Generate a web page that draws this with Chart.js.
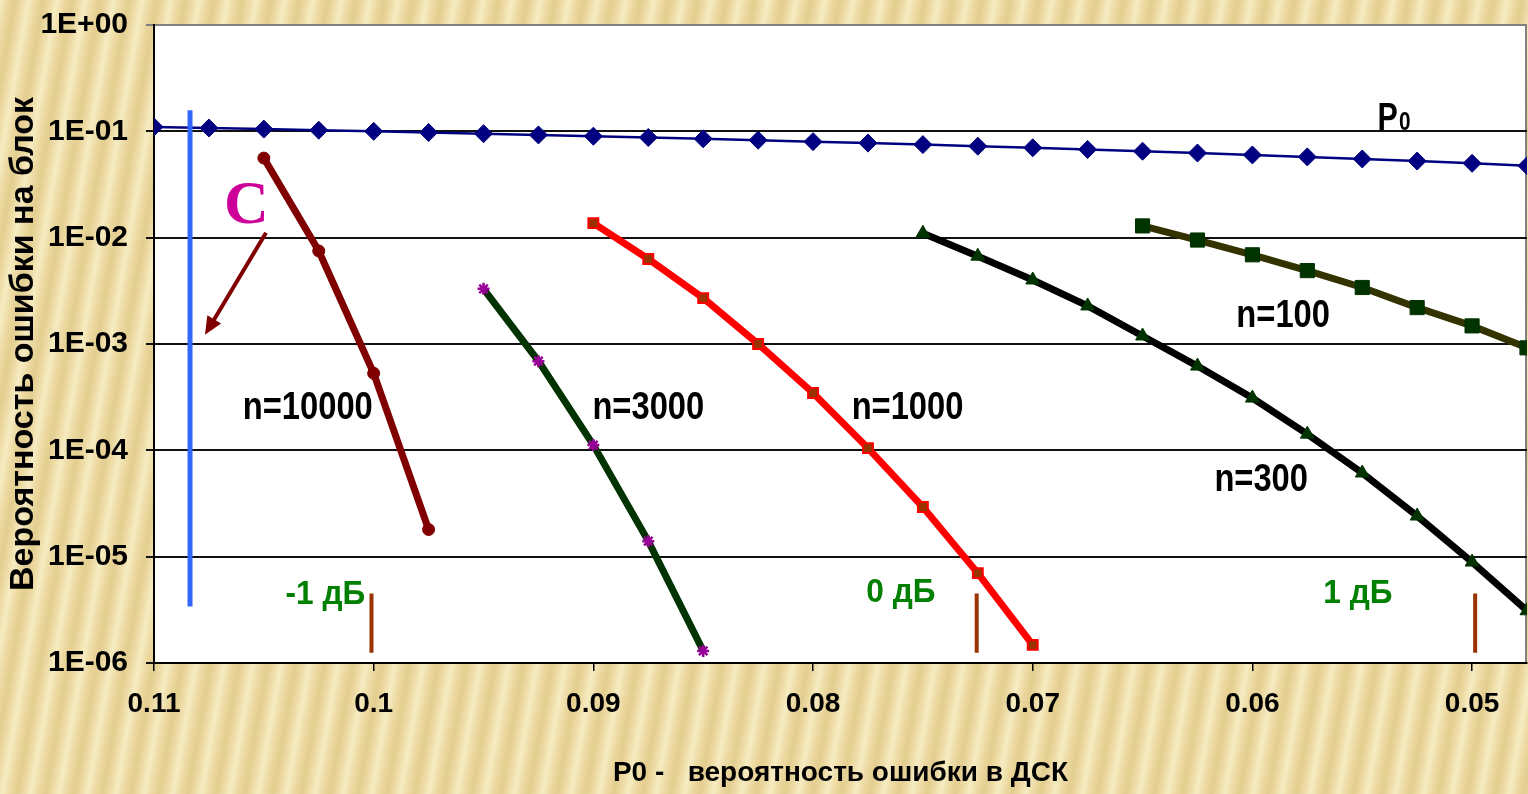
<!DOCTYPE html>
<html>
<head>
<meta charset="utf-8">
<script src="https://cdn.jsdelivr.net/npm/chart.js@4/dist/chart.umd.min.js"></script>
<style>
  html, body { margin: 0; padding: 0; overflow: hidden; }
  body {
    width: 1528px; height: 794px;
    background-color: #ecd9a0;
    background-image:
      repeating-linear-gradient(100deg, rgba(255,250,222,0.55) 0px, rgba(255,250,222,0) 8px, rgba(196,164,84,0.22) 15px, rgba(255,250,222,0.1) 22px, rgba(255,250,222,0.55) 28px);
  }
  #wrap { position: relative; width: 1528px; height: 794px; }
</style>
</head>
<body>
<div id="wrap"><canvas id="chart"></canvas></div>
<script>
// P0 - channel bit error probability (x axis)
const p0X = [0.11, 0.1075, 0.105, 0.1025, 0.1, 0.0975, 0.095, 0.0925, 0.09, 0.0875, 0.085, 0.0825, 0.08,
             0.0775, 0.075, 0.0725, 0.07, 0.0675, 0.065, 0.0625, 0.06, 0.0575, 0.055, 0.0525, 0.05, 0.0475];
const p0Y = [0.11, 0.1075, 0.105, 0.1025, 0.1, 0.0975, 0.095, 0.0925, 0.09, 0.0875, 0.085, 0.0825, 0.08,
             0.0775, 0.075, 0.0725, 0.07, 0.0675, 0.065, 0.0625, 0.06, 0.0575, 0.055, 0.0525, 0.05, 0.0475];

const n10000X = [0.105, 0.1025, 0.1, 0.0975];
const n10000Y = [0.056, 0.0075, 0.00053, 0.000018];

const n3000X = [0.095, 0.0925, 0.09, 0.0875, 0.085];
const n3000Y = [0.0033, 0.00069, 0.000112, 0.000014, 0.0000013];

const n1000X = [0.09, 0.0875, 0.085, 0.0825, 0.08, 0.0775, 0.075, 0.0725, 0.07];
const n1000Y = [0.0137, 0.0063, 0.0027, 0.001, 0.000346, 0.000105, 0.0000293, 0.000007, 0.00000148];

const n300X = [0.075, 0.0725, 0.07, 0.0675, 0.065, 0.0625, 0.06, 0.0575, 0.055, 0.0525, 0.05, 0.0475];
const n300Y = [0.011, 0.0067, 0.004, 0.00228, 0.00119, 0.00062, 0.00031, 0.000142, 0.0000612, 0.0000241, 0.0000089, 0.0000031];

const n100X = [0.065, 0.0625, 0.06, 0.0575, 0.055, 0.0525, 0.05, 0.0475];
const n100Y = [0.0129, 0.0095, 0.0069, 0.0049, 0.0034, 0.0022, 0.00148, 0.00092];

// vertical marks: capacity line "C" and the dB markers
const capX = [0.10836, 0.10836];
const capY = [0.158, 0.0000034];
const dbX = [0.1001, 0.07255, 0.04986];
const dbY = [0.0000045, 0.00000125];

const xTicks = [0.11, 0.1, 0.09, 0.08, 0.07, 0.06, 0.05];
const xTickLabels = ["0.11", "0.1", "0.09", "0.08", "0.07", "0.06", "0.05"];
const yTicks = [1e-6, 1e-5, 1e-4, 1e-3, 1e-2, 1e-1, 1];
const yTickLabels = ["1E-06", "1E-05", "1E-04", "1E-03", "1E-02", "1E-01", "1E+00"];

const curveLabels = [
  { text: "n=10000", x: 0.103, y: 2.5e-4 },
  { text: "n=3000", x: 0.0875, y: 2.5e-4 },
  { text: "n=1000", x: 0.0757, y: 2.5e-4 },
  { text: "n=100", x: 0.0586, y: 1.83e-3 },
  { text: "n=300", x: 0.0596, y: 5.15e-5 }
];
const dbLabels = [
  { text: "-1 дБ", x: 0.1022, y: 4.4e-6 },
  { text: "0 дБ", x: 0.0760, y: 4.6e-6 },
  { text: "1 дБ", x: 0.0552, y: 4.5e-6 }
];

const SANS = '"Liberation Sans", Arial, sans-serif';

function pts(xs, ys) {
  return xs.map((x, i) => ({ x: x, y: ys[i] }));
}

// text drawn a bit condensed, like the narrow font of the original
function narrowText(ctx, text, x, y, squeeze) {
  ctx.save();
  ctx.translate(x, y);
  ctx.scale(squeeze, 1);
  ctx.fillText(text, 0, 0);
  ctx.restore();
}

const decorations = {
  id: "decorations",
  beforeDraw(chart) {
    const { ctx, chartArea: a } = chart;
    ctx.save();
    ctx.fillStyle = "#ffffff";
    ctx.fillRect(a.left, a.top, a.right - a.left, a.bottom - a.top);
    ctx.strokeStyle = "#808080";
    ctx.lineWidth = 2;
    ctx.beginPath();
    ctx.moveTo(a.right - 1, a.top);
    ctx.lineTo(a.right - 1, a.bottom);
    ctx.stroke();
    ctx.restore();
  },
  afterDatasetsDraw(chart) {
    const { ctx } = chart;
    const xs = chart.scales.x, ys = chart.scales.y;
    ctx.save();
    ctx.textAlign = "center";
    ctx.textBaseline = "middle";
    ctx.fillStyle = "#000";
    ctx.font = "bold 38px " + SANS;
    curveLabels.forEach((l) => {
      narrowText(ctx, l.text, xs.getPixelForValue(l.x), ys.getPixelForValue(l.y), 0.86);
    });
    ctx.fillStyle = "#008000";
    ctx.font = "bold 34px " + SANS;
    dbLabels.forEach((l) => {
      narrowText(ctx, l.text, xs.getPixelForValue(l.x), ys.getPixelForValue(l.y), 0.93);
    });

    // P0 label with small zero
    const px = xs.getPixelForValue(0.0543), py = ys.getPixelForValue(0.104);
    ctx.fillStyle = "#000";
    ctx.textAlign = "left";
    ctx.textBaseline = "alphabetic";
    ctx.font = "bold 38px " + SANS;
    narrowText(ctx, "P", px, py, 0.8);
    const pw = ctx.measureText("P").width * 0.8;
    ctx.font = "bold 26px " + SANS;
    narrowText(ctx, "0", px + pw + 1, py, 0.8);

    // "C" and its arrow
    ctx.fillStyle = "#cc0099";
    ctx.textAlign = "center";
    ctx.textBaseline = "middle";
    ctx.font = 'bold 62px "Liberation Serif", "Times New Roman", serif';
    ctx.fillText("C", xs.getPixelForValue(0.1058), ys.getPixelForValue(0.0195));

    const x1 = xs.getPixelForValue(0.1049), y1 = ys.getPixelForValue(0.0111);
    const x2 = xs.getPixelForValue(0.10768), y2 = ys.getPixelForValue(0.00122);
    const ang = Math.atan2(y2 - y1, x2 - x1);
    ctx.strokeStyle = "#800000";
    ctx.fillStyle = "#800000";
    ctx.lineWidth = 4;
    ctx.beginPath();
    ctx.moveTo(x1, y1);
    ctx.lineTo(x2 - 12 * Math.cos(ang), y2 - 12 * Math.sin(ang));
    ctx.stroke();
    ctx.beginPath();
    ctx.moveTo(x2, y2);
    ctx.lineTo(x2 - 18 * Math.cos(ang) + 8 * Math.sin(ang), y2 - 18 * Math.sin(ang) - 8 * Math.cos(ang));
    ctx.lineTo(x2 - 18 * Math.cos(ang) - 8 * Math.sin(ang), y2 - 18 * Math.sin(ang) + 8 * Math.cos(ang));
    ctx.closePath();
    ctx.fill();
    ctx.restore();
  }
};

const datasets = [
  {
    data: pts(capX, capY),
    borderColor: "#3366ff",
    borderWidth: 5,
    pointRadius: 0
  }
];
dbX.forEach((x) => {
  datasets.push({
    data: pts([x, x], dbY),
    borderColor: "#993300",
    borderWidth: 4,
    pointRadius: 0
  });
});
datasets.push(
  {
    label: "n=10000",
    data: pts(n10000X, n10000Y),
    borderColor: "#800000",
    backgroundColor: "#800000",
    borderWidth: 7,
    pointStyle: "circle",
    pointRadius: 6,
    pointBorderWidth: 1
  },
  {
    label: "n=3000",
    data: pts(n3000X, n3000Y),
    borderColor: "#003300",
    borderWidth: 7,
    pointStyle: "star",
    pointRadius: 6,
    pointBorderColor: "#990099",
    pointBackgroundColor: "#990099",
    pointBorderWidth: 2.5
  },
  {
    label: "n=1000",
    data: pts(n1000X, n1000Y),
    borderColor: "#ff0000",
    borderWidth: 7,
    pointStyle: "rect",
    pointRadius: 7,
    pointBorderColor: "#ff0000",
    pointBackgroundColor: "#993300",
    pointBorderWidth: 2
  },
  {
    label: "n=300",
    data: pts(n300X, n300Y),
    borderColor: "#000000",
    borderWidth: 7,
    pointStyle: "triangle",
    pointRadius: 8,
    pointBorderColor: "#003300",
    pointBackgroundColor: "#003300",
    pointBorderWidth: 1
  },
  {
    label: "n=100",
    data: pts(n100X, n100Y),
    borderColor: "#333300",
    borderWidth: 7,
    pointStyle: "rect",
    pointRadius: 10,
    pointBorderColor: "#003300",
    pointBackgroundColor: "#003300",
    pointBorderWidth: 1
  },
  {
    label: "P0",
    data: pts(p0X, p0Y),
    borderColor: "#000080",
    backgroundColor: "#000080",
    borderWidth: 2.5,
    pointStyle: "rectRot",
    pointRadius: 9,
    pointBorderWidth: 1
  }
);

function noLabelPadding(scale) {
  scale.paddingTop = 0;
  scale.paddingBottom = 0;
  scale.paddingLeft = 0;
  scale.paddingRight = 0;
}

new Chart(document.getElementById("chart"), {
  type: "line",
  data: { datasets: datasets },
  options: {
    responsive: true,
    maintainAspectRatio: false,
    animation: false,
    layout: { autoPadding: false, padding: { left: 0, right: 1, top: 25, bottom: 0 } },
    elements: { line: { tension: 0 } },
    plugins: {
      legend: { display: false },
      tooltip: { enabled: false }
    },
    scales: {
      x: {
        type: "linear",
        reverse: true,
        min: 0.0475,
        max: 0.11,
        afterBuildTicks: (scale) => {
          scale.ticks = xTicks.map((v) => ({ value: v }));
        },
        afterFit: (scale) => {
          scale.height = 131;
          noLabelPadding(scale);
        },
        ticks: {
          autoSkip: false,
          maxRotation: 0,
          padding: 16,
          color: "#000",
          font: { family: SANS, size: 28, weight: "bold" },
          callback: (v, i) => xTickLabels[i]
        },
        grid: {
          drawOnChartArea: false,
          drawTicks: true,
          tickLength: 8,
          color: "#000",
          lineWidth: 1.5
        },
        border: { color: "#000", width: 2 },
        title: {
          display: true,
          text: "P0 -   вероятность ошибки в ДСК",
          color: "#000",
          font: { family: SANS, size: 28, weight: "bold" },
          padding: { top: 0, bottom: 4 }
        }
      },
      y: {
        type: "logarithmic",
        min: 1e-6,
        max: 1,
        afterBuildTicks: (scale) => {
          scale.ticks = yTicks.map((v) => ({ value: v }));
        },
        afterFit: (scale) => {
          scale.width = 154;
          noLabelPadding(scale);
        },
        ticks: {
          autoSkip: false,
          padding: 18,
          color: "#000",
          font: { family: SANS, size: 30, weight: "bold" },
          callback: (v, i) => yTickLabels[i]
        },
        grid: {
          color: (c) => (c.tick && c.tick.value === 1 ? "#808080" : "#111"),
          lineWidth: 2,
          tickLength: 8
        },
        border: { color: "#000", width: 2 },
        title: {
          display: true,
          text: "Вероятность ошибки на блок",
          color: "#000",
          font: { family: SANS, size: 34, weight: "bold" },
          padding: { top: 3, bottom: 0 }
        }
      }
    }
  },
  plugins: [decorations]
});
</script>
</body>
</html>
